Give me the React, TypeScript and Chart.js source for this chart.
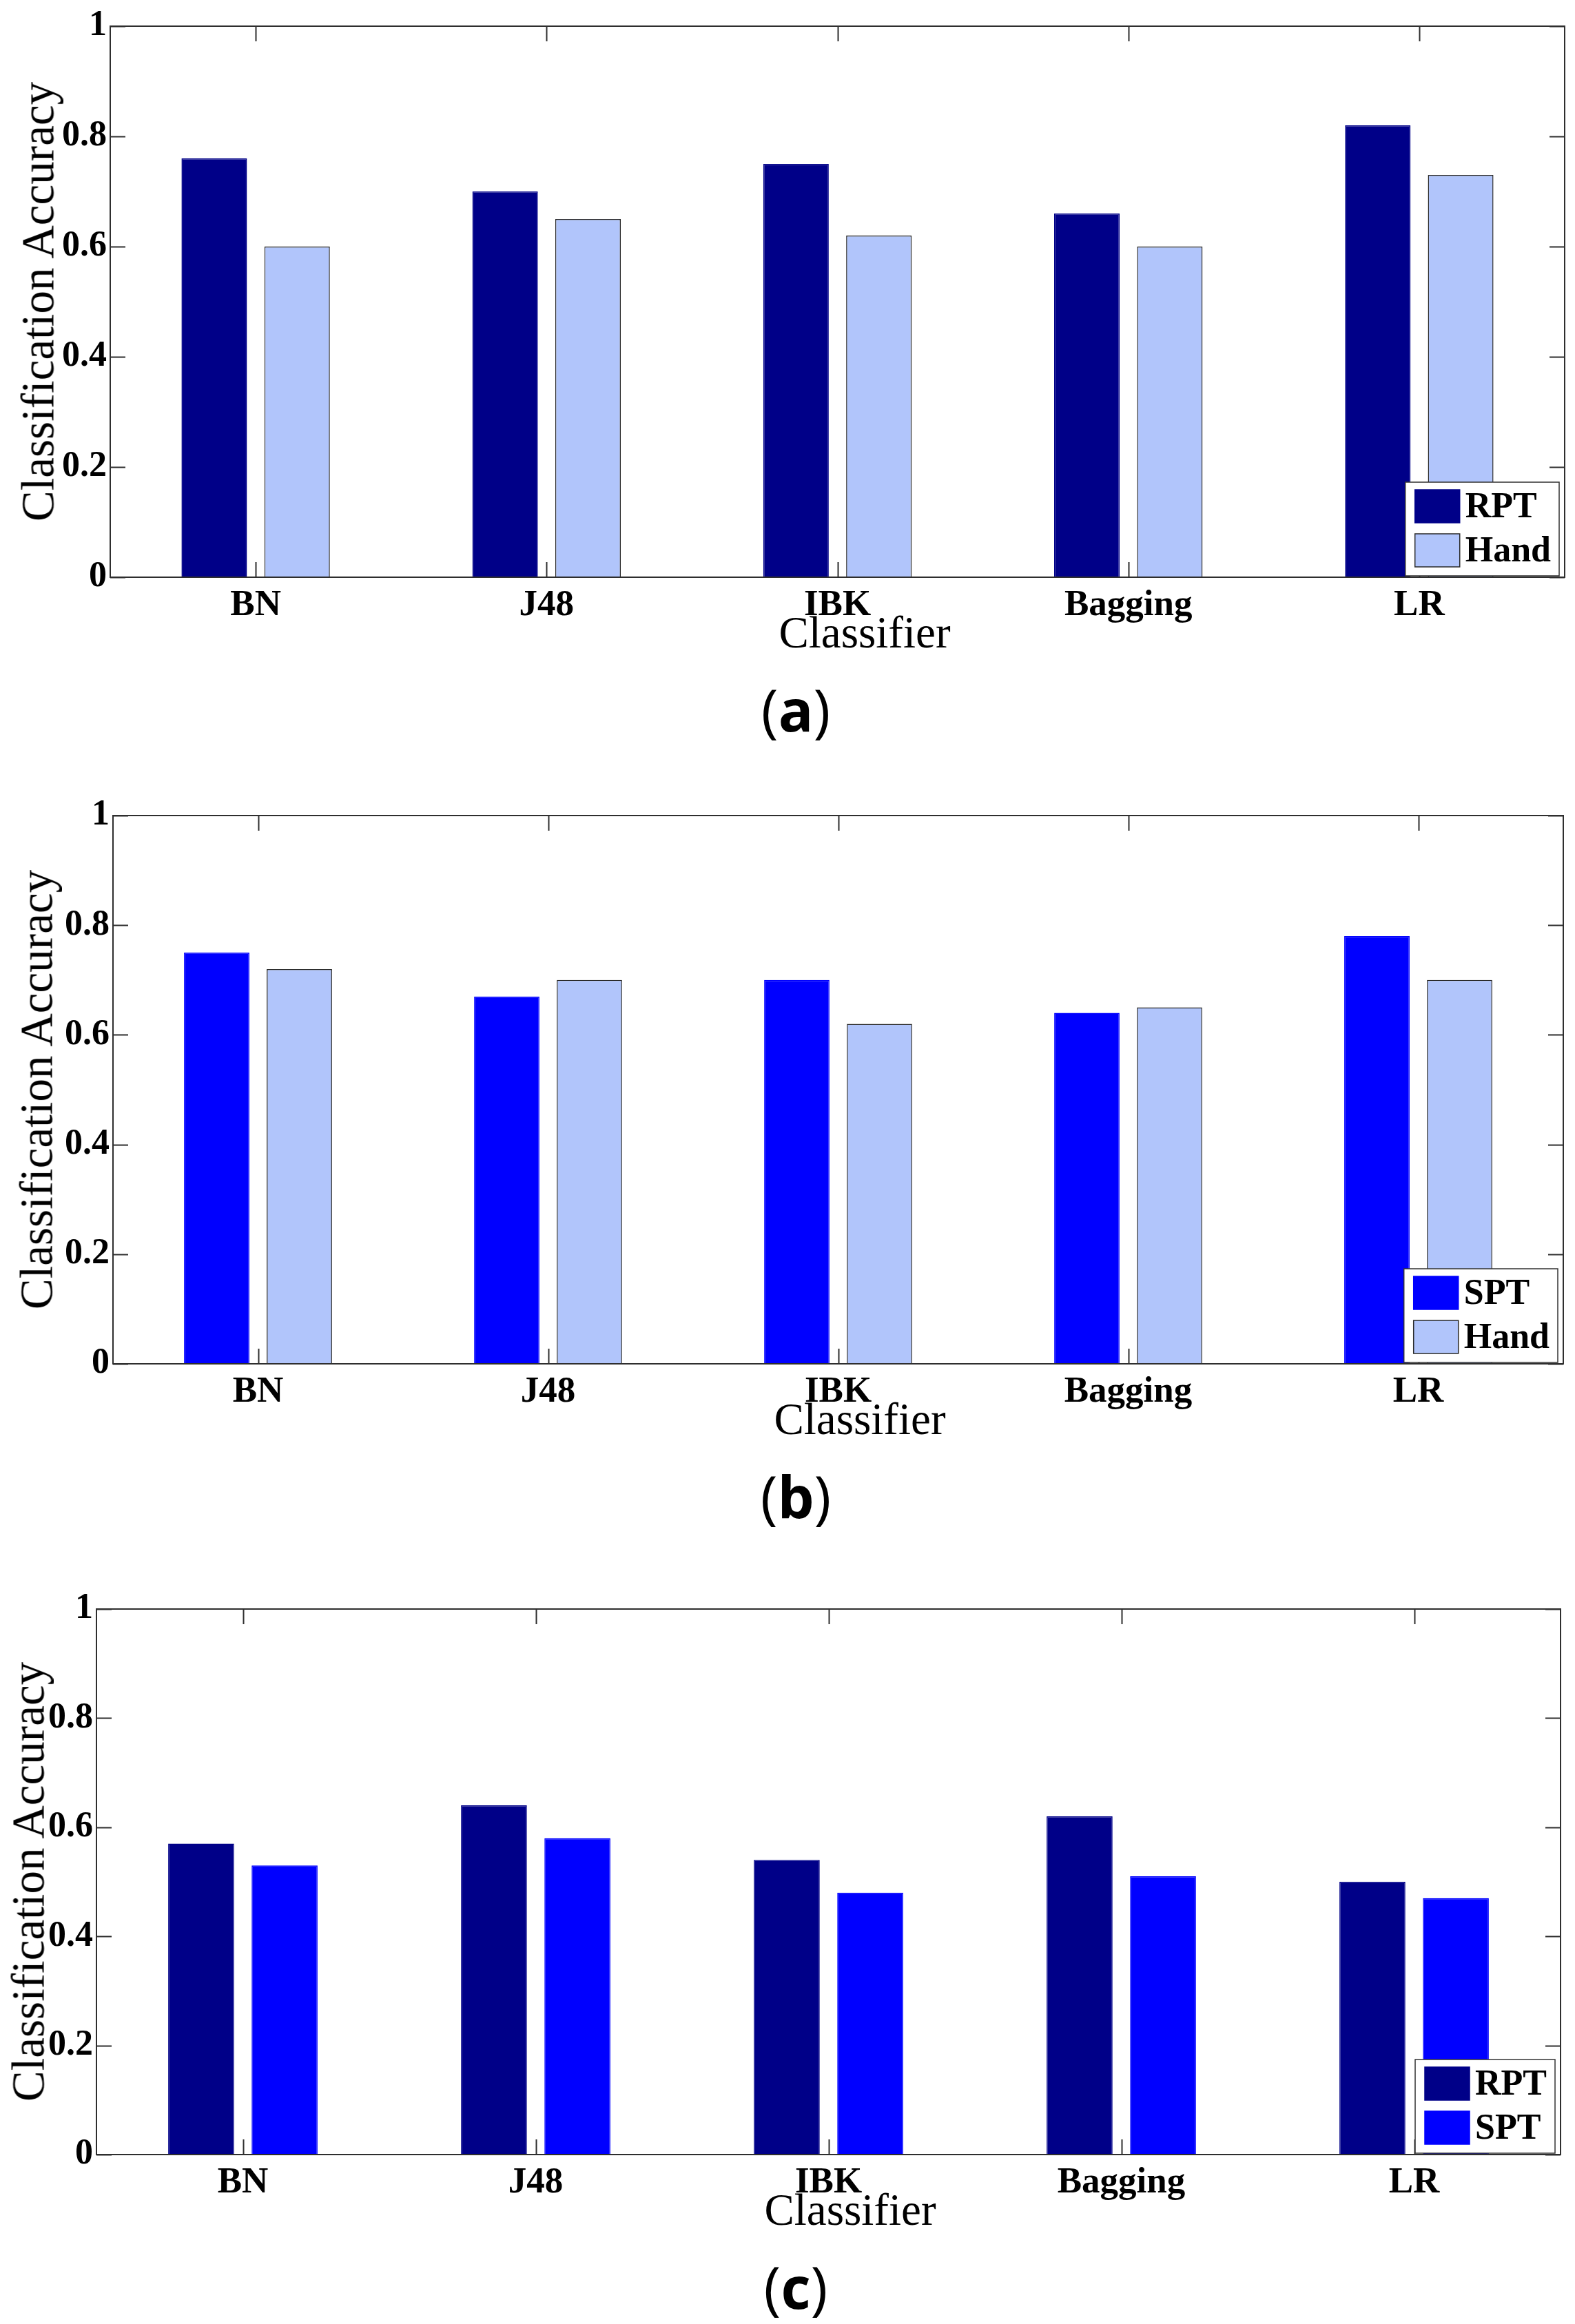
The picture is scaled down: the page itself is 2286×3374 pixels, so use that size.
import React, { useEffect, useRef } from 'react';
import { Chart, registerables } from 'chart.js';

Chart.register(...registerables);

// ---------- data ----------
const categories = ['BN', 'J48', 'IBK', 'Bagging', 'LR'];

const rptA = [0.76, 0.70, 0.75, 0.66, 0.82];
const handA = [0.60, 0.65, 0.62, 0.60, 0.73];

const sptB = [0.75, 0.67, 0.70, 0.64, 0.78];
const handB = [0.72, 0.70, 0.62, 0.65, 0.70];

const rptC = [0.57, 0.64, 0.54, 0.62, 0.50];
const sptC = [0.53, 0.58, 0.48, 0.51, 0.47];

const yMin = 0;
const yMax = 1;
const yStep = 0.2;

const xTitle = 'Classifier';
const yTitle = 'Classification Accuracy';

// ---------- styles ----------
const NAVY = '#000088';
const BLUE = '#0000FF';
const LIGHT = '#B1C5FB';
const EDGE = '#2a2a2a';
const SERIF = '"Liberation Serif", "Times New Roman", serif';

type Series = { label: string; data: number[]; color: string; border: string };
type PanelSpec = {
  tag: string;
  plotTop: number;
  plotBottom: number;
  plotLeft: number;
  plotRight: number;
  series: Series[];
  yTitleX: number;
  xTitleX: number;
};

const PAGE_W = 2286;
const PAD_TOP = 40;
const X_AREA = 140;

const panels: PanelSpec[] = [
  {
    tag: 'a',
    plotTop: 38, plotBottom: 838, plotLeft: 160, plotRight: 2271,
    series: [
      { label: 'RPT', data: rptA, color: NAVY, border: NAVY },
      { label: 'Hand', data: handA, color: LIGHT, border: EDGE },
    ],
    yTitleX: 55, xTitleX: 1255,
  },
  {
    tag: 'b',
    plotTop: 1184, plotBottom: 1980, plotLeft: 164, plotRight: 2269,
    series: [
      { label: 'SPT', data: sptB, color: BLUE, border: BLUE },
      { label: 'Hand', data: handB, color: LIGHT, border: EDGE },
    ],
    yTitleX: 53, xTitleX: 1248,
  },
  {
    tag: 'c',
    plotTop: 2336, plotBottom: 3128, plotLeft: 140, plotRight: 2265,
    series: [
      { label: 'RPT', data: rptC, color: NAVY, border: NAVY },
      { label: 'SPT', data: sptC, color: BLUE, border: BLUE },
    ],
    yTitleX: 41, xTitleX: 1234,
  },
];

const framePlugin = {
  id: 'matlabFrame',
  afterDatasetsDraw(chart: any) {
    const { ctx, chartArea: a, scales } = chart;
    const L = 22;
    ctx.save();
    ctx.strokeStyle = '#2e2e2e';
    ctx.lineWidth = 2;
    ctx.strokeRect(a.left, a.top, a.right - a.left, a.bottom - a.top);
    ctx.beginPath();
    scales.y.ticks.forEach((t: any) => {
      const y = Math.round(scales.y.getPixelForValue(t.value)) + 0.5;
      ctx.moveTo(a.left, y);
      ctx.lineTo(a.left + L, y);
      ctx.moveTo(a.right, y);
      ctx.lineTo(a.right - L, y);
    });
    chart.data.labels.forEach((_: any, i: number) => {
      const x = Math.round(scales.x.getPixelForValue(i)) + 0.5;
      ctx.moveTo(x, a.bottom);
      ctx.lineTo(x, a.bottom - L);
      ctx.moveTo(x, a.top);
      ctx.lineTo(x, a.top + L);
    });
    ctx.stroke();

    // legend box (inside plot, lower right)
    const ds = chart.data.datasets;
    ctx.font = `bold 52px ${SERIF}`;
    let maxW = 0;
    ds.forEach((d: any) => { maxW = Math.max(maxW, ctx.measureText(d.label).width); });
    const swW = 65, swH = 48;
    const boxW = 14 + swW + 8 + maxW + 12;
    const boxH = 136;
    const bx = a.right - 8 - boxW;
    const by = a.bottom - 2 - boxH;
    ctx.fillStyle = '#ffffff';
    ctx.fillRect(bx, by, boxW, boxH);
    ctx.lineWidth = 1.5;
    ctx.strokeStyle = '#333333';
    ctx.strokeRect(bx, by, boxW, boxH);
    ds.forEach((d: any, i: number) => {
      const sy = by + 11 + i * 64;
      ctx.fillStyle = d.backgroundColor;
      ctx.fillRect(bx + 14, sy, swW, swH);
      ctx.strokeStyle = d.borderColor;
      ctx.lineWidth = 1.5;
      ctx.strokeRect(bx + 14, sy, swW, swH);
      ctx.fillStyle = '#000';
      ctx.textBaseline = 'middle';
      ctx.textAlign = 'left';
      ctx.fillText(d.label, bx + 14 + swW + 8, sy + swH / 2 + 3);
    });
    ctx.restore();
  },
};

function Panel({ spec }: { spec: PanelSpec }) {
  const ref = useRef<HTMLCanvasElement | null>(null);
  const canvasTop = spec.plotTop - PAD_TOP;
  const canvasH = spec.plotBottom - canvasTop + X_AREA;

  useEffect(() => {
    if (!ref.current) return;
    const chart = new Chart(ref.current, {
      type: 'bar',
      data: {
        labels: categories,
        datasets: spec.series.map((s) => ({
          label: s.label,
          data: s.data,
          backgroundColor: s.color,
          borderColor: s.border,
          borderWidth: 1.5,
          categoryPercentage: 0.57,
          barPercentage: 0.79,
        })),
      },
      options: {
        responsive: false,
        animation: false,
        devicePixelRatio: 1,
        layout: {
          padding: { top: PAD_TOP, left: 0, right: PAGE_W - spec.plotRight, bottom: 0 },
        },
        plugins: {
          legend: { display: false },
          tooltip: { enabled: false },
          title: { display: false },
        },
        scales: {
          x: {
            type: 'category',
            offset: true,
            grid: { display: false, drawTicks: false },
            border: { display: false },
            ticks: {
              color: '#000',
              padding: 10,
              maxRotation: 0,
              font: { family: SERIF, weight: 'bold', size: 53 },
            },
            afterFit: (scale: any) => { scale.height = X_AREA; },
          },
          y: {
            min: yMin,
            max: yMax,
            grid: { display: false, drawTicks: false },
            border: { display: false },
            ticks: {
              stepSize: yStep,
              color: '#000',
              padding: 5,
              font: { family: SERIF, weight: 'bold', size: 52 },
              callback: (v: any) => String(Math.round(Number(v) * 10) / 10),
            },
            afterFit: (scale: any) => { scale.width = spec.plotLeft; },
          },
        },
      },
      plugins: [framePlugin],
    } as any);
    return () => chart.destroy();
  }, [spec]);

  const midY = (spec.plotTop + spec.plotBottom) / 2;
  return (
    <>
      <canvas
        ref={ref}
        width={PAGE_W}
        height={canvasH}
        style={{ position: 'absolute', left: 0, top: canvasTop, width: PAGE_W, height: canvasH }}
      />
      <div
        style={{
          position: 'absolute', left: spec.yTitleX, top: midY,
          transform: 'translate(-50%, -50%) rotate(-90deg)',
          fontFamily: SERIF, fontSize: 67, lineHeight: 1, whiteSpace: 'nowrap', color: '#000',
        }}
      >
        {yTitle}
      </div>
      <div
        style={{
          position: 'absolute', left: spec.xTitleX, top: spec.plotBottom + 48,
          transform: 'translateX(-50%)',
          fontFamily: SERIF, fontSize: 65, lineHeight: 1, whiteSpace: 'nowrap', color: '#000',
        }}
      >
        {xTitle}
      </div>
      <div
        style={{
          position: 'absolute', left: 1155, top: spec.plotBottom + 192,
          transform: 'translate(-50%, -50%)',
          fontFamily: '"Open Sans", "DejaVu Sans", sans-serif', fontSize: 84, lineHeight: 1,
          whiteSpace: 'nowrap', color: '#000',
        }}
      >
        ({<b>{spec.tag}</b>})
      </div>
    </>
  );
}

export default function App() {
  return (
    <div style={{ position: 'absolute', left: 0, top: 0, width: PAGE_W, height: 3374, background: '#fff' }}>
      {panels.map((p) => (
        <Panel key={p.tag} spec={p} />
      ))}
    </div>
  );
}
